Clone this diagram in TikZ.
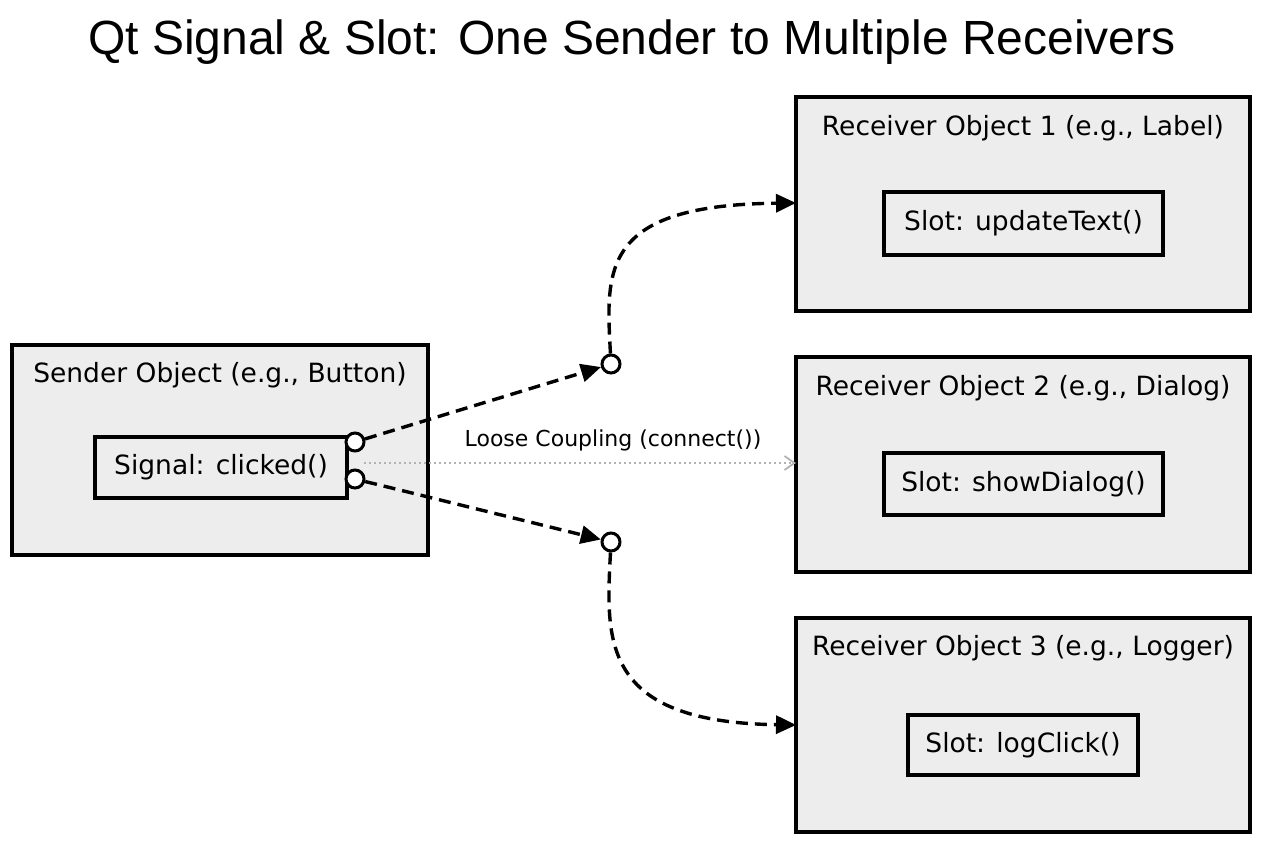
\documentclass[tikz,border=0pt]{standalone}
\usepackage{fontspec}
\setmainfont{DejaVu Sans}
\newfontfamily\titlefont{Liberation Sans}
\usetikzlibrary{arrows.meta}
\begin{document}
\begin{tikzpicture}[x=1pt,y=-1pt,
  outer/.style={draw,line width=3.4pt,fill=black!7},
  inner/.style={draw,line width=3.2pt,fill=black!7,inner sep=0pt},
  lbl/.style={font=\fontsize{26.5}{30}\selectfont},
  port/.style={circle,draw,line width=3pt,fill=white,minimum size=18pt,inner sep=0pt},
  conn/.style={line width=3.4pt,dash pattern=on 12pt off 7pt,-{Triangle[length=20pt,width=18pt]}},
]
\useasboundingbox (0,0) rectangle (1264,848);
\node[font=\titlefont\fontsize{48}{54}\selectfont] (title) at (632,42) {Qt Signal \& Slot: One Sender to Multiple Receivers};
% sender
\draw[outer] (12,345) rectangle (428,555);
\node[lbl] (sl) at (220,375) {Sender Object (e.g., Button)};
\node[inner,minimum width=252pt,minimum height=61pt,lbl] (sig) at (221,467.5) {Signal: clicked()};
% receivers
\draw[outer] (796,97) rectangle (1250,311);
\node[lbl] (r1l) at (1023,128) {Receiver Object 1 (e.g., Label)};
\node[inner,minimum width=279pt,minimum height=63pt,lbl] (s1) at (1023.5,223.5) {Slot: updateText()};
\draw[outer] (796,357) rectangle (1250,572);
\node[lbl] (r2l) at (1023,388) {Receiver Object 2 (e.g., Dialog)};
\node[inner,minimum width=279pt,minimum height=62pt,lbl] (s2) at (1023.5,484) {Slot: showDialog()};
\draw[outer] (796,618) rectangle (1250,832);
\node[lbl] (r3l) at (1023,648) {Receiver Object 3 (e.g., Logger)};
\node[inner,minimum width=230pt,minimum height=60pt,lbl] (s3) at (1023,745) {Slot: logClick()};
\coordinate (r1in) at (796,203);
\coordinate (r2in) at (796,463);
\coordinate (r3in) at (796,725);
% ports
\node[port] (p1) at (355,442) {};
\node[port] (p2) at (355,479) {};
\node[port] (j1) at (611,364) {};
\node[port] (j2) at (611,542) {};
% dotted
\draw[gray!60,line width=1.8pt,dash pattern=on 2pt off 3pt,-{Straight Barb[length=10pt,width=14pt]}] (364,463) -- (r2in);
\node[font=\fontsize{22}{26}\selectfont] (lc) at (613,440) {Loose Coupling (connect())};
% connectors
\draw[conn] (p1) -- (j1);
\draw[conn] (p2) -- (j2);
\draw[conn] (j1) .. controls (606,270) and (600,205) .. (r1in);
\draw[conn] (j2) .. controls (606,640) and (600,722) .. (r3in);
\end{tikzpicture}
\end{document}
